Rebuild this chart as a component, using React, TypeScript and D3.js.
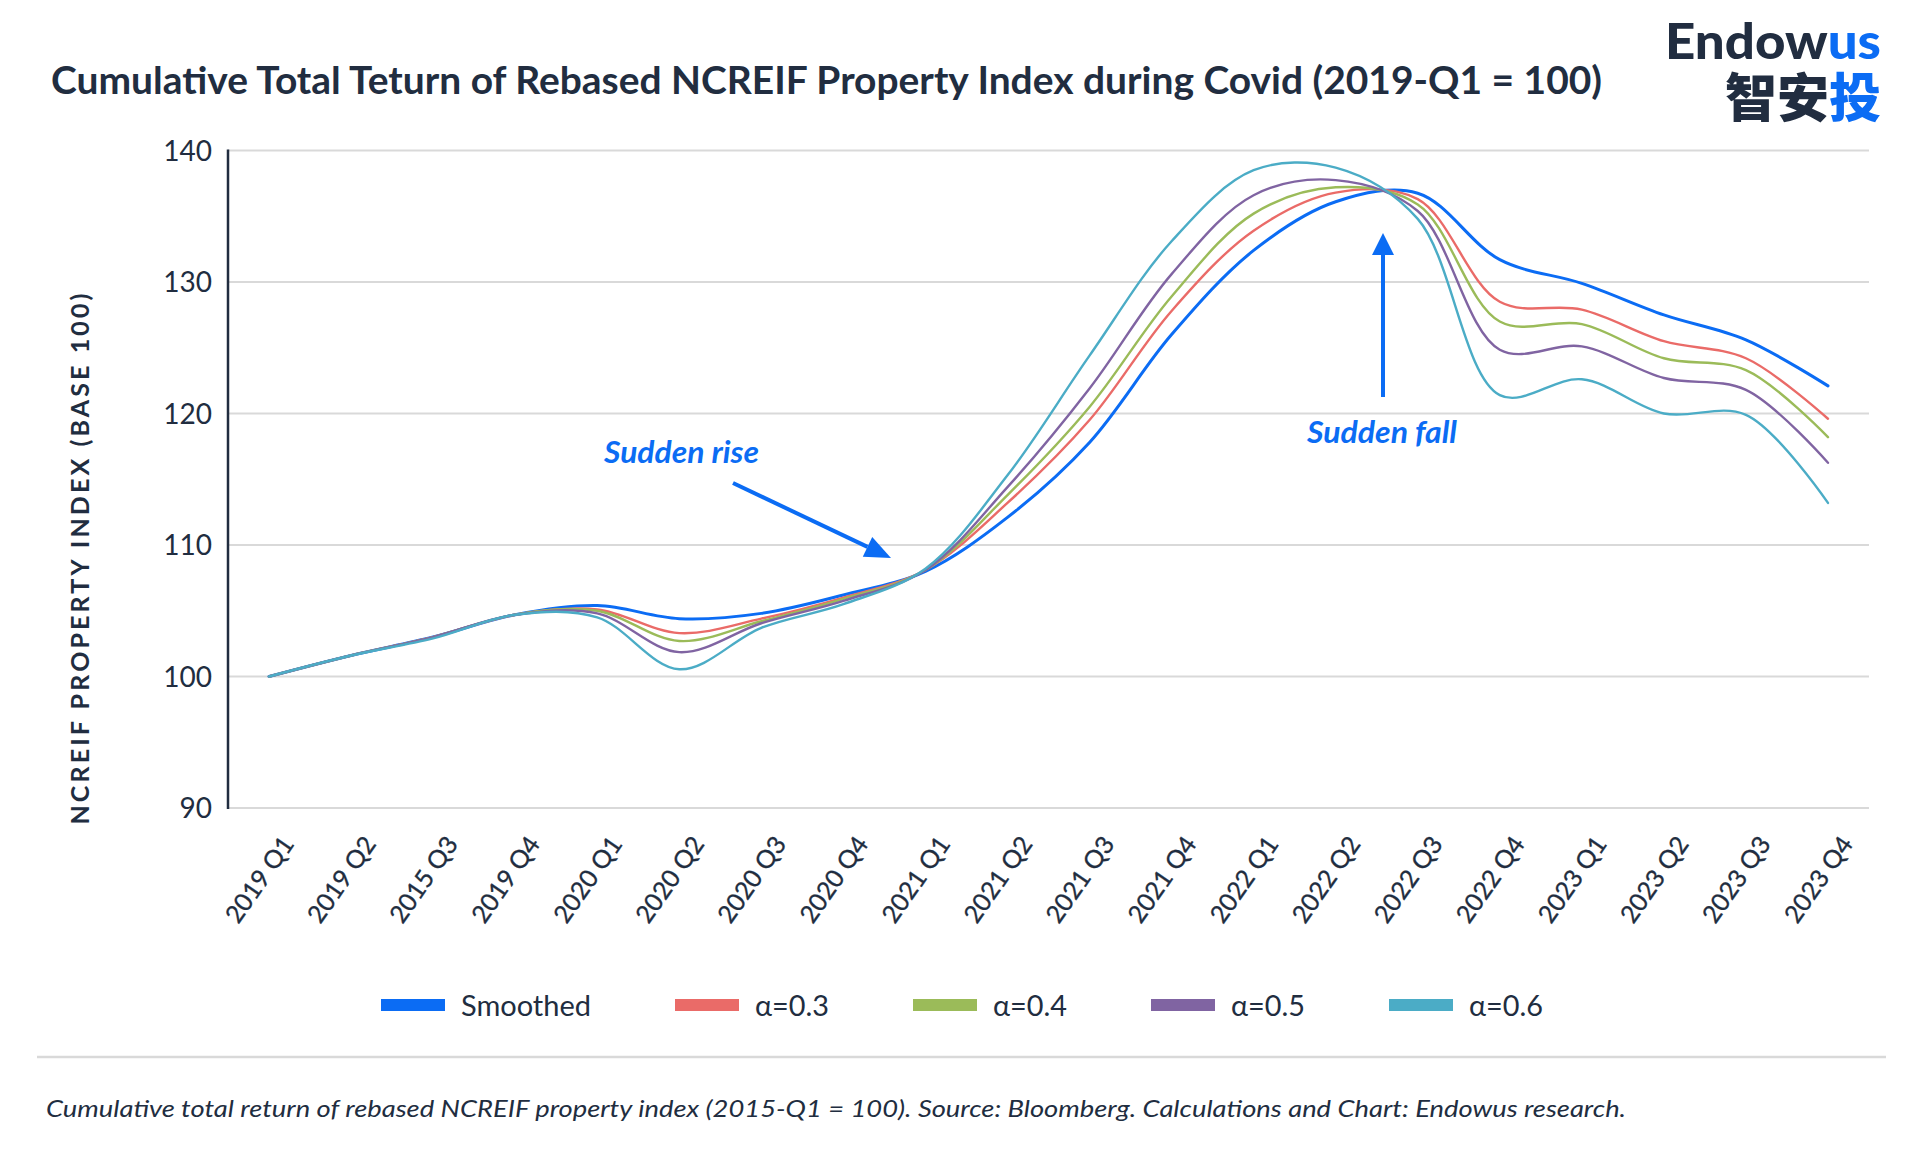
import React from 'react';
import * as d3 from 'd3';

const categories = ['2019 Q1','2019 Q2','2015 Q3','2019 Q4','2020 Q1','2020 Q2','2020 Q3','2020 Q4','2021 Q1','2021 Q2','2021 Q3','2021 Q4','2022 Q1','2022 Q2','2022 Q3','2022 Q4','2023 Q1','2023 Q2','2023 Q3','2023 Q4'];

const smoothed = [100, 101.6, 103.0, 104.7, 105.4, 104.4, 104.8, 106.2, 108.0, 112.1, 117.8, 126.0, 132.4, 136.1, 136.75, 131.7, 129.9, 127.5, 125.6, 122.1];
const alpha03 = [100, 101.6, 103.0, 104.7, 105.1, 103.3, 104.4, 106.0, 108.1, 113.2, 119.5, 127.8, 133.9, 136.8, 136.3, 128.5, 127.9, 125.5, 124.2, 119.6];
const alpha04 = [100, 101.6, 103.0, 104.7, 105.0, 102.7, 104.2, 105.9, 108.1, 113.8, 120.5, 128.9, 135.2, 137.2, 135.9, 127.0, 126.8, 124.2, 123.3, 118.2];
const alpha05 = [100, 101.6, 103.0, 104.7, 104.8, 101.85, 104.05, 105.75, 108.1, 114.4, 121.9, 130.6, 136.6, 137.75, 135.4, 124.85, 125.1, 122.7, 121.8, 116.25];
const alpha06 = [100, 101.6, 102.9, 104.7, 104.5, 100.55, 103.7, 105.5, 108.2, 115.3, 124.4, 133.1, 138.5, 138.7, 134.8, 121.4, 122.6, 120.0, 119.9, 113.2];

const seriesNames = ['Smoothed', 'α=0.3', 'α=0.4', 'α=0.5', 'α=0.6'];
const seriesValues = [smoothed, alpha03, alpha04, alpha05, alpha06];
const seriesColors = ['#0b6cf4', '#ea6b68', '#9bbb59', '#8064a2', '#4bacc6'];
const seriesWidths = [3, 2.4, 2.4, 2.4, 2.4];

const yTicks = [90, 100, 110, 120, 130, 140];

const titleText = 'Cumulative Total Teturn of Rebased NCREIF Property Index during Covid (2019-Q1 = 100)';
const yAxisTitle = 'NCREIF PROPERTY INDEX (BASE 100)';
const footerText = 'Cumulative total return of rebased NCREIF property index (2015-Q1 = 100). Source: Bloomberg. Calculations and Chart: Endowus research.';
const annotations = ['Sudden rise', 'Sudden fall'];

const DARK = '#212d40';
const BLUE = '#0b6cf4';
const GRID = '#d9d9d9';
const FONT = 'Lato, "Open Sans", sans-serif';

export default function App() {
  const W = 1920, H = 1168;
  const x = d3.scaleBand<string>().domain(categories).range([228, 1869]);
  const y = d3.scaleLinear().domain([90, 140]).range([808, 150.5]);
  const cx = (c: string) => (x(c) as number) + x.bandwidth() / 2;

  const line = d3.line<number>()
    .x((_, i) => cx(categories[i]))
    .y(d => y(d))
    .curve(d3.curveCatmullRom.alpha(0.5));

  const legendTextW = [130, 74, 74, 74, 74];
  const legendX: number[] = [];
  let lx = 381;
  legendTextW.forEach((w) => { legendX.push(lx); lx += 64 + 16 + w + 84; });

  const riseTip = { x: 891, y: 558 };
  const riseStart = { x: 733, y: 483 };
  const ang = Math.atan2(riseTip.y - riseStart.y, riseTip.x - riseStart.x);
  const headL = 26, headW = 11;
  const riseBase = { x: riseTip.x - headL * Math.cos(ang), y: riseTip.y - headL * Math.sin(ang) };
  const px = -Math.sin(ang), py = Math.cos(ang);

  const fallX = 1383;
  const fallTip = 233;

  return (
    <svg width={W} height={H} style={{ position: 'absolute', left: 0, top: 0, background: '#fff' }} fontFamily={FONT}>
      <rect x={0} y={0} width={W} height={H} fill="#fff" />
      {/* Title */}
      <text x={51} y={94} fontSize={38} fontWeight={700} fill={DARK} textLength={1551} lengthAdjust="spacingAndGlyphs">{titleText}</text>
      {/* Logo */}
      <text x={1881} y={59} fontSize={50} fontWeight={900} textAnchor="end" fill={DARK} textLength={216} lengthAdjust="spacingAndGlyphs">
        Endow<tspan fill={BLUE}>us</tspan>
      </text>
      <text x={1881} y={117} fontSize={52} fontWeight={900} textAnchor="end" fill={DARK} fontFamily='"Noto Sans CJK SC", sans-serif'>
        智安<tspan fill={BLUE}>投</tspan>
      </text>

      {/* gridlines */}
      {yTicks.map(t => (
        <line key={t} x1={228} x2={1869} y1={y(t)} y2={y(t)} stroke={GRID} strokeWidth={2} />
      ))}
      {/* y axis line */}
      <line x1={228} x2={228} y1={y(140) - 1} y2={y(90) + 1} stroke={DARK} strokeWidth={2.5} />
      {/* y tick labels */}
      {yTicks.map(t => (
        <text key={'l' + t} x={212} y={y(t) + 10} fontSize={28} textAnchor="end" fill={DARK}>{t}</text>
      ))}
      {/* y axis title */}
      <text transform="translate(89,559) rotate(-90)" fontSize={25} fontWeight={700} textAnchor="middle" fill={DARK} textLength={531} lengthAdjust="spacing">{yAxisTitle}</text>

      {/* x labels */}
      {categories.map(c => (
        <text key={c} transform={`translate(${cx(c) + 26},844) rotate(-55)`} fontSize={25} textAnchor="end" fill={DARK} stroke={DARK} strokeWidth={0.3}>{c}</text>
      ))}

      {/* series */}
      {seriesValues.map((vals, i) => (
        <path key={seriesNames[i]} d={line(vals) || ''} fill="none" stroke={seriesColors[i]} strokeWidth={seriesWidths[i]} strokeLinejoin="round" strokeLinecap="round" />
      ))}

      {/* annotations */}
      <text x={604} y={463} fontSize={31} fontWeight={700} fontStyle="italic" fill={BLUE} textLength={155} lengthAdjust="spacingAndGlyphs">{annotations[0]}</text>
      <line x1={riseStart.x} y1={riseStart.y} x2={riseBase.x} y2={riseBase.y} stroke={BLUE} strokeWidth={4} />
      <polygon points={`${riseTip.x},${riseTip.y} ${riseBase.x + px * headW},${riseBase.y + py * headW} ${riseBase.x - px * headW},${riseBase.y - py * headW}`} fill={BLUE} />

      <text x={1307} y={443} fontSize={31} fontWeight={700} fontStyle="italic" fill={BLUE} textLength={150} lengthAdjust="spacingAndGlyphs">{annotations[1]}</text>
      <line x1={fallX} y1={397} x2={fallX} y2={fallTip + 20} stroke={BLUE} strokeWidth={4} />
      <polygon points={`${fallX},${fallTip} ${fallX - 11},${fallTip + 22} ${fallX + 11},${fallTip + 22}`} fill={BLUE} />

      {/* legend */}
      {seriesNames.map((n, i) => (
        <g key={'lg' + n}>
          <rect x={legendX[i]} y={999} width={64} height={12} fill={seriesColors[i]} />
          <text x={legendX[i] + 80} y={1016} fontSize={28} fill={DARK} textLength={legendTextW[i]} lengthAdjust="spacingAndGlyphs">{n}</text>
        </g>
      ))}

      {/* separator */}
      <line x1={37} x2={1886} y1={1057} y2={1057} stroke={GRID} strokeWidth={2.5} />

      {/* footer */}
      <text x={46} y={1117} fontSize={24} fontStyle="italic" fill={DARK} textLength={1580} lengthAdjust="spacingAndGlyphs">{footerText}</text>
    </svg>
  );
}
